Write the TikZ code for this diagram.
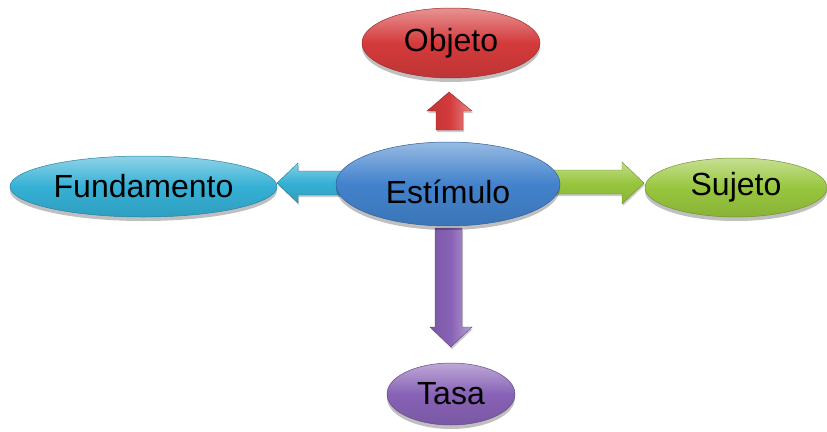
\documentclass[tikz,border=0pt]{standalone}
\usepackage{fontspec}
\setmainfont{Liberation Sans}
\usetikzlibrary{shapes.geometric,shadows}
\definecolor{cblue}{HTML}{4282CC}
\definecolor{cred}{HTML}{D43A3B}
\definecolor{ccyan}{HTML}{35B0D5}
\definecolor{cgreen}{HTML}{98C63E}
\definecolor{cpurple}{HTML}{8862B6}
\tikzset{
  oval/.style={ellipse, inner sep=0pt, draw=#1!75!black, line width=0.5pt,
    top color=#1!55!white, bottom color=#1!90!black, middle color=#1,
    font=\fontsize{32}{32}\selectfont, text=black,
    drop shadow={shadow xshift=0pt, shadow yshift=-4pt, opacity=0.25, fill=black}},
  varrow/.style={draw=#1!70!black, line width=0.4pt, line join=miter,
    left color=#1!90!black, right color=#1!60!white, middle color=#1,
    drop shadow={shadow xshift=1pt, shadow yshift=-2pt, opacity=0.2, fill=black}},
  harrow/.style={draw=#1!70!black, line width=0.4pt, line join=miter,
    top color=#1!60!white, bottom color=#1!90!black, middle color=#1,
    drop shadow={shadow xshift=1pt, shadow yshift=-2pt, opacity=0.2, fill=black}}
}
\begin{document}
\begin{tikzpicture}[x=1pt,y=-1pt]
\useasboundingbox (0,0) rectangle (827,431);
% block arrows (drawn first)
\draw[varrow=cred] (449,92) coordinate (rtip) -- (472,111) -- (463,111) -- (463,130)
  -- (436,130) -- (436,111) -- (427,111) -- cycle;
\draw[harrow=ccyan] (277,183) coordinate (ctip) -- (298,163) -- (298,171) -- (342,171)
  -- (342,195) -- (298,195) -- (298,203) -- cycle;
\draw[harrow=cgreen] (644,183) coordinate (gtip) -- (622,162) -- (622,170) -- (554,170)
  -- (554,194) -- (622,194) -- (622,204) -- cycle;
\draw[varrow=cpurple] (451,347) coordinate (ptip) -- (472,327) -- (462,327) -- (462,228)
  -- (435,228) -- (435,327) -- (430,327) -- cycle;
% ellipses
\node[oval=cred, minimum width=178pt, minimum height=70pt] (objeto) at (451,43) {Objeto};
\node[oval=ccyan, minimum width=267pt, minimum height=61pt] (fundamento) at (143.5,186.5) {Fundamento};
\node[oval=cgreen, minimum width=182pt, minimum height=59pt] (sujeto) at (736,187.5) {Sujeto};
\node[oval=cpurple, minimum width=128pt, minimum height=62pt] (tasa) at (451,394) {Tasa};
\node[oval=cblue, minimum width=224pt, minimum height=84pt] (estimulo) at (448,184) {\raisebox{-5pt}[0.93em][0pt]{Estímulo}};
\end{tikzpicture}
\end{document}
